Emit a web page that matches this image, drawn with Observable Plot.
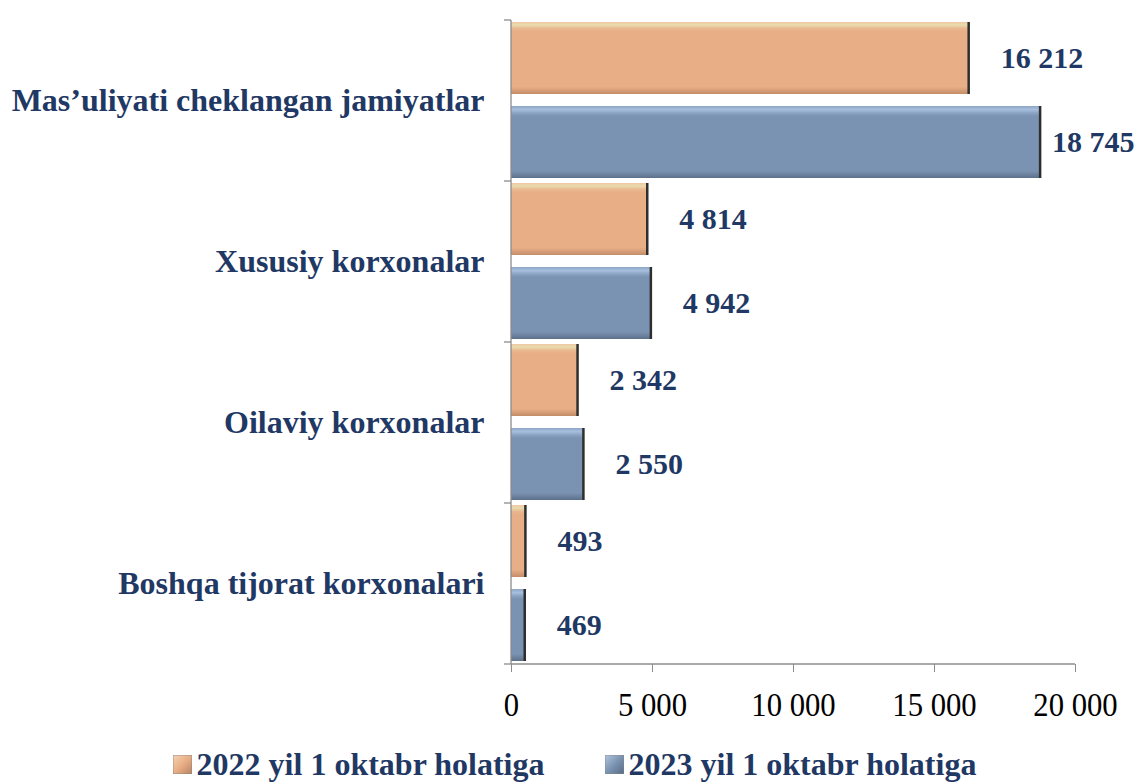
<!DOCTYPE html>
<html><head><meta charset="utf-8">
<script src="https://cdn.jsdelivr.net/npm/d3@7"></script>
<script src="https://cdn.jsdelivr.net/npm/@observablehq/plot@0.6"></script>
<style>
body{margin:0;background:#fff;font-family:"Liberation Serif","Times New Roman",serif;}
#chart svg{overflow:visible;}
#chart g[aria-label="fy-axis tick label"] text{font-weight:bold;fill:#1f3864;font-size:32px;}
#chart g[aria-label="x-axis tick label"] text{fill:#000;font-size:33px;}
#chart g[aria-label="x-axis tick"] path{stroke:#8c8c8c;}
.legend{display:flex;justify-content:center;gap:60px;margin-top:16px;margin-left:7px;font-weight:bold;font-size:32px;line-height:37px;color:#1f3864;}
.legend span{display:flex;align-items:center;}
.legend svg{margin-right:5px;}
</style></head>
<body>
<svg width="0" height="0" style="position:absolute">
<defs>
<linearGradient id="gOr" x1="0" y1="0" x2="0" y2="1">
<stop offset="0" stop-color="#f0c6a2"/>
<stop offset="0.04" stop-color="#e9dcae"/>
<stop offset="0.09" stop-color="#e9b890"/>
<stop offset="0.13" stop-color="#e8ae86"/>
<stop offset="0.9" stop-color="#e8ae86"/>
<stop offset="1" stop-color="#c48d69"/>
</linearGradient>
<linearGradient id="gBl" x1="0" y1="0" x2="0" y2="1">
<stop offset="0" stop-color="#8ea6c6"/>
<stop offset="0.05" stop-color="#a7bfdd"/>
<stop offset="0.1" stop-color="#8aa2c2"/>
<stop offset="0.14" stop-color="#7b93b2"/>
<stop offset="0.9" stop-color="#7b93b2"/>
<stop offset="1" stop-color="#5c708a"/>
</linearGradient>
<linearGradient id="lOr" x1="0" y1="0" x2="1" y2="1">
<stop offset="0" stop-color="#f6d2b4"/>
<stop offset="0.5" stop-color="#e8ae86"/>
<stop offset="1" stop-color="#b8835f"/>
</linearGradient>
<linearGradient id="lBl" x1="0" y1="0" x2="1" y2="1">
<stop offset="0" stop-color="#b3c6de"/>
<stop offset="0.5" stop-color="#7b93b2"/>
<stop offset="1" stop-color="#566a84"/>
</linearGradient>
</defs></svg>
<div id="chart"></div>
<div class="legend" id="legend"></div>
<script>
const categories = ["Mas’uliyati cheklangan jamiyatlar","Xususiy korxonalar","Oilaviy korxonalar","Boshqa tijorat korxonalari"];
const series = ["2022 yil 1 oktabr holatiga","2023 yil 1 oktabr holatiga"];
const values2022 = [16212,4814,2342,493];
const values2023 = [18745,4942,2550,469];
const xTicks = [0,5000,10000,15000,20000];

const fills = ["url(#gOr)","url(#gBl)"];
const swatches = ["url(#lOr)","url(#lBl)"];
const data = categories.flatMap((c,i)=>[
  {category:c, series:series[0], value:values2022[i]},
  {category:c, series:series[1], value:values2023[i]}
]);
const fmt = v => d3.format(",")(v).replace(/,/g," ");
const maxV = d3.max(data, d=>d.value);
const navy = "#1f3864";

const plot = Plot.plot({
  width:1142, height:730,
  marginLeft:511, marginRight:67, marginTop:18, marginBottom:65,
  style:{fontFamily:"Liberation Serif, Times New Roman, serif", background:"#fff"},
  x:{domain:[0,20000], ticks:xTicks, tickFormat:fmt, tickSize:8, tickPadding:20, label:null},
  y:{domain:series, paddingInner:0.14, paddingOuter:0.02, axis:null},
  fy:{domain:categories, padding:0, axis:"left", tickSize:0, tickPadding:27, label:null},
  marks:[
    Plot.barX(data.filter(d=>d.series===series[0]),{x:"value",y:"series",fy:"category",fill:fills[0],inset:0}),
    Plot.barX(data.filter(d=>d.series===series[1]),{x:"value",y:"series",fy:"category",fill:fills[1],inset:0}),
    Plot.tickX(data,{x:"value",y:"series",fy:"category",stroke:"#2e2e2e",strokeWidth:2.5}),
    Plot.text(data.filter(d=>d.value<0.9*maxV),{x:"value",y:"series",fy:"category",text:d=>fmt(d.value),textAnchor:"start",dx:32,fill:navy,fontSize:30,fontWeight:"bold"}),
    Plot.text(data.filter(d=>d.value>=0.9*maxV),{x:"value",y:"series",fy:"category",text:d=>fmt(d.value),textAnchor:"start",dx:12,fill:navy,fontSize:30,fontWeight:"bold"})
  ]
});
document.getElementById("chart").appendChild(plot);

// slightly condensed x tick labels, as in the reference
d3.select(plot).selectAll('g[aria-label="x-axis tick label"] text').each(function(){
  const w = this.getComputedTextLength();
  this.setAttribute("textLength", (w*0.93).toFixed(1));
  this.setAttribute("lengthAdjust","spacingAndGlyphs");
});

// axis lines and category boundary ticks from the plot's scales
const xs = plot.scale("x"), fys = plot.scale("fy");
const svg = d3.select(plot);
const x0 = xs.apply(0), x1 = xs.apply(20000);
const starts = categories.map(c=>fys.apply(c));
const bottom = starts[starts.length-1] + fys.bandwidth;
const bounds = starts.concat([bottom]);
const g = svg.append("g").attr("stroke","#8c8c8c").attr("stroke-width",1.3);
g.append("line").attr("x1",x0).attr("x2",x0).attr("y1",bounds[0]).attr("y2",bottom);
g.append("line").attr("x1",x0).attr("x2",x1).attr("y1",bottom).attr("y2",bottom);
bounds.forEach(b=>g.append("line").attr("x1",x0-7).attr("x2",x0).attr("y1",b).attr("y2",b));

// legend
const leg = d3.select("#legend");
series.forEach((s,i)=>{
  const sp = leg.append("span");
  const sw = sp.append("svg").attr("width",19).attr("height",19);
  sw.append("rect").attr("width",19).attr("height",19).attr("fill",swatches[i]).attr("stroke","#888").attr("stroke-width",0.8);
  sp.append("span").text(s);
});
</script>
</body></html>
